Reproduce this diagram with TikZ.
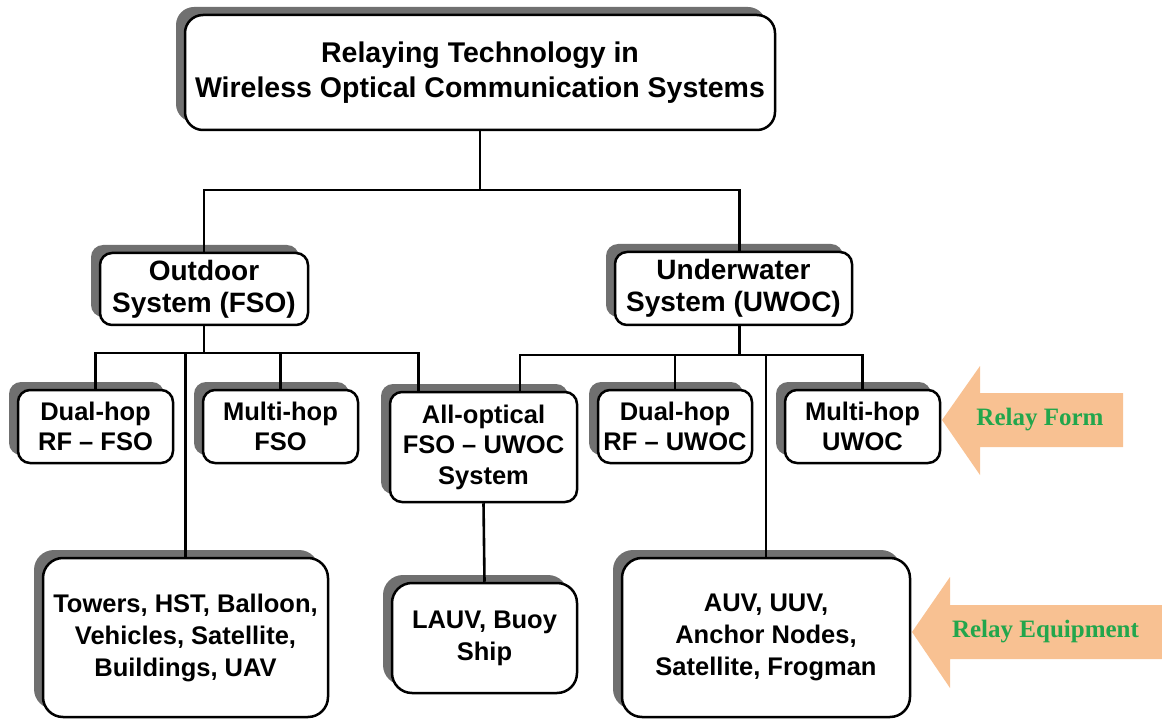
\documentclass[tikz,border=0pt]{standalone}
\usepackage{fontspec}
\setmainfont{Liberation Sans}
\newfontfamily\relayfont{Liberation Serif}
\usetikzlibrary{shadows}
\definecolor{shadowgray}{RGB}{112,112,112}
\definecolor{peach}{RGB}{248,193,146}
\definecolor{relaygreen}{RGB}{34,166,76}
\tikzset{
  box/.style={draw, line width=2.5pt, fill=white, align=center, inner sep=0pt,
    rounded corners=12pt,
    drop shadow={shadow xshift=-9pt, shadow yshift=8pt, fill=shadowgray, opacity=1},
    font=\bfseries\fontsize{25.5}{30.5}\selectfont},
  bigbox/.style={box, rounded corners=20pt},
  conn/.style={line width=2.6pt},
  relayarrow/.style={fill=peach, draw=none},
  relaytext/.style={text=relaygreen, font=\relayfont\bfseries\fontsize{25}{28}\selectfont},
}
\begin{document}
\begin{tikzpicture}[x=1pt,y=-1pt]
\useasboundingbox (0,0) rectangle (1162,719);

% nodes
\node[box, rounded corners=18pt, minimum width=590pt, minimum height=115pt,
  font=\bfseries\fontsize{28.5}{35}\selectfont] (top) at (480,72.5)
  {Relaying Technology in\\Wireless Optical Communication Systems};
\node[box, minimum width=208pt, minimum height=72pt,
  font=\bfseries\fontsize{28}{32}\selectfont] (out) at (204,289) {Outdoor\\System (FSO)};
\node[box, minimum width=237pt, minimum height=73pt,
  font=\bfseries\fontsize{28}{32}\selectfont] (uw) at (733.5,288.5) {Underwater\\System (UWOC)};

\node[box, minimum width=155pt, minimum height=73pt] (d1) at (95.5,426.5) {Dual-hop\\RF -- FSO};
\node[box, minimum width=155pt, minimum height=73pt] (m1) at (280.5,426.5) {Multi-hop\\FSO};
\node[box, minimum width=187pt, minimum height=110pt] (ao) at (483.5,447) {All-optical\\FSO -- UWOC\\System};
\node[box, minimum width=154pt, minimum height=73pt] (d2) at (675,426.5) {Dual-hop\\RF -- UWOC};
\node[box, minimum width=155pt, minimum height=73pt] (m2) at (862.5,426.5) {Multi-hop\\UWOC};

\node[bigbox, minimum width=285pt, minimum height=159pt,
  font=\bfseries\fontsize{25.5}{32}\selectfont] (eq1) at (185.5,637.5)
  {Towers, HST, Balloon,\\Vehicles, Satellite,\\Buildings, UAV};
\node[bigbox, minimum width=185pt, minimum height=110pt,
  font=\bfseries\fontsize{25.5}{32}\selectfont] (eq2) at (484.5,638)
  {LAUV, Buoy\\Ship};
\node[bigbox, minimum width=288pt, minimum height=159pt,
  font=\bfseries\fontsize{25.5}{32}\selectfont] (eq3) at (766,637.5)
  {AUV, UUV,\\Anchor Nodes,\\Satellite, Frogman};

% connectors
\coordinate (b1) at (480,190);
\draw[conn] (top.south) -- (b1);
\draw[conn] (out.north) |- (b1) -| ([xshift=6pt]uw.north);

\coordinate (b2) at (204,353);
\draw[conn] (out.south) -- (b2);
\draw[conn] (d1.north) |- (b2) -| ([xshift=-65pt]ao.north);
\draw[conn] (m1.north) -- (m1.north |- b2);
\draw[conn] (eq1.north) -- (eq1.north |- b2);

\coordinate (b3) at (739.5,355);
\draw[conn] ([xshift=6pt]uw.south) -- (b3);
\draw[conn] ([xshift=36.5pt]ao.north) |- (b3) -| (m2.north);
\draw[conn] (d2.north) -- (d2.north |- b3);
\draw[conn] (eq3.north) -- (eq3.north |- b3);

\draw[conn] (ao.south) -- (eq2.north);

% relay arrows
\fill[relayarrow] (942,420) -- (980,366) -- (980,393) -- (1123,393) -- (1123,447)
  -- (980,447) -- (980,475) -- cycle;
\node[relaytext] (rf) at (1040,420) {Relay Form};
\fill[relayarrow] (912,632) -- (950,577) -- (950,605) -- (1162,605) -- (1162,659)
  -- (950,659) -- (950,688) -- cycle;
\node[relaytext] (re) at (1045.5,632) {Relay Equipment};
\end{tikzpicture}
\end{document}
